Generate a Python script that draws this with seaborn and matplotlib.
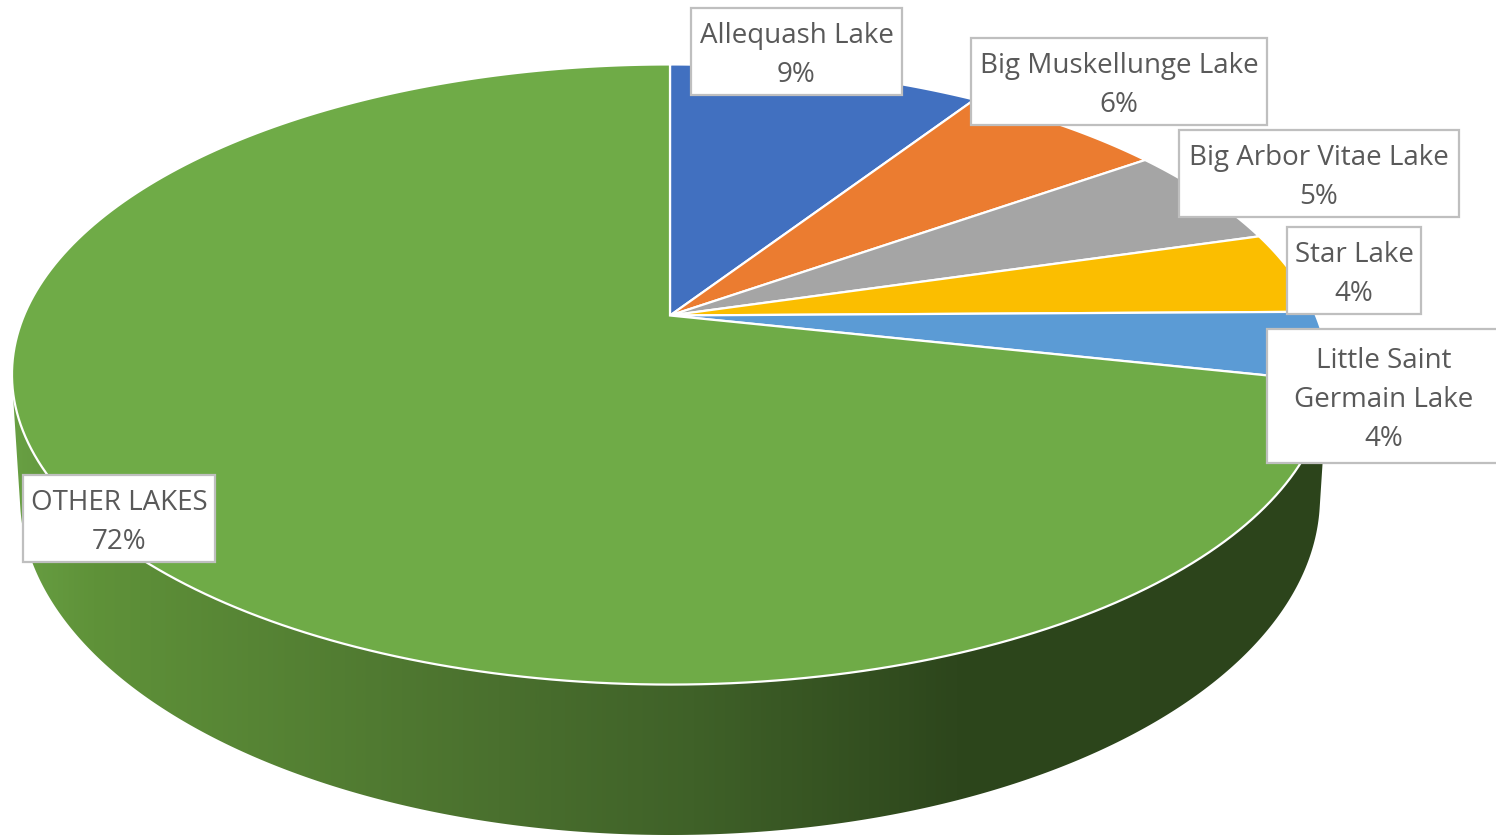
import numpy as np
import matplotlib
matplotlib.use("Agg")
import matplotlib.pyplot as plt
import seaborn as sns
from matplotlib.colors import LinearSegmentedColormap
from matplotlib.patches import Rectangle, Polygon

# --- DATA ---
lakes = ["Allequash Lake", "Big Muskellunge Lake", "Big Arbor Vitae Lake",
         "Star Lake", "Little Saint\nGermain Lake", "OTHER LAKES"]
shares = [9.2, 6.0, 5.3, 4.3, 3.6, 71.6]
slice_colors = ["#4170c0", "#eb7c30", "#a5a5a5", "#fbbe00", "#5b9bd5", "#6fab47"]

# --- PIE GEOMETRY (pixel coords, perspective view of a unit disc) ---
APEX_X, APEX_Y = 670, 316.5
SCALE_X, SCALE_Y, TILT = 646, 238.6, 0.1903
BASE_X, BASE_Y, BASE_A, BASE_B = 670, 498, 650, 338


def project(theta):
    # theta runs clockwise from 12 o'clock
    u, v = np.sin(theta), np.cos(theta)
    w = 1 + TILT * v
    return APEX_X + SCALE_X * u / w, (APEX_Y - SCALE_Y * v) / w


def hull(pts):
    # monotone chain, wall outline = top rim + bottom rim
    pts = sorted(map(tuple, pts))
    def half(seq):
        out = []
        for p in seq:
            while len(out) > 1 and ((out[-1][0] - out[-2][0]) * (p[1] - out[-2][1])
                                    - (out[-1][1] - out[-2][1]) * (p[0] - out[-2][0])) <= 0:
                out.pop()
            out.append(p)
        return out[:-1]
    return np.array(half(pts) + half(pts[::-1]))


sns.set_theme(style="white")
plt.rcParams['font.family'] = ['Open Sans', 'DejaVu Sans']

fig, ax = plt.subplots(figsize=(14.96, 8.37), dpi=100)
fig.subplots_adjust(0, 0, 1, 1)
ax.set_xlim(0, 1496)
ax.set_ylim(837, 0)
ax.axis('off')

# side wall with the horizontal shading
t = np.linspace(0, 2 * np.pi, 721)
top_rim = np.column_stack(project(t))
bottom_rim = np.column_stack([BASE_X + BASE_A * np.cos(t), BASE_Y + BASE_B * np.sin(t)])
wall = Polygon(hull(np.vstack([top_rim, bottom_rim])), closed=True, fc='none', ec='none')
ax.add_patch(wall)
wall_cmap = LinearSegmentedColormap.from_list("wall", [
    (0.0, "#689f43"), (0.06, "#5f9239"), (0.37, "#4a702e"),
    (0.52, "#3f6128"), (0.72, "#2d461c"), (1.0, "#2c441b")])
img = ax.imshow(np.linspace(0, 1, 512).reshape(1, -1), cmap=wall_cmap, aspect='auto',
                extent=(12, 1325, 837, 0), zorder=1)
img.set_clip_path(wall)
ax.set_xlim(0, 1496)
ax.set_ylim(837, 0)

# top face
edges = np.cumsum([0] + shares) / sum(shares) * 2 * np.pi
palette = sns.color_palette(slice_colors)
for i, col in enumerate(palette):
    arc = np.linspace(edges[i], edges[i + 1], 240)
    xs, ys = project(arc)
    ax.fill(np.r_[APEX_X, xs], np.r_[APEX_Y, ys], fc=col, ec='white', lw=1.6,
            joinstyle='miter', zorder=2)

# data labels
boxes = [(691, 8.5, 211, 87), (971, 38.5, 296, 87), (1179, 130.5, 280, 87),
         (1287, 227.5, 134, 87), (1267, 329.5, 234, 134), (23, 475.5, 192, 87)]
for name, share, (bx, by, bw, bh) in zip(lakes, shares, boxes):
    ax.add_patch(Rectangle((bx, by), bw, bh, fc='white', ec='#bfbfbf', lw=1.6, zorder=3))
    ax.text(bx + bw / 2, by + bh / 2 + 3.5, f"{name}\n{share:.0f}%", ha='center', va='center',
            ma='center', fontsize=20, color='#595959', linespacing=1.5, zorder=4)

fig.savefig("out.png", dpi=100)
